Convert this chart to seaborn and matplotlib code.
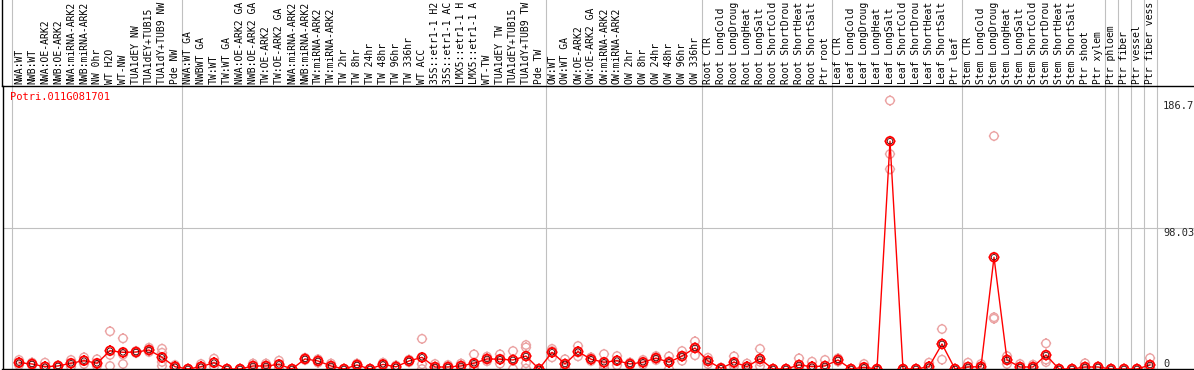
import numpy as np
import pandas as pd
import seaborn as sns
import matplotlib.pyplot as plt
from matplotlib.path import Path

# sample columns, in the order shown across the top (as far as the header shows them)
samples = [
    'NWA:WT', 'NWB:WT', 'NWA:OE-ARK2', 'NWB:OE-ARK2', 'NWA:miRNA-ARK2', 'NWB:miRNA-ARK2',
    'NW 0hr', 'WT H2O', 'WT-NW', 'TUA1dEY NW', 'TUA1dEY+TUB15', 'TUA1dY+TUB9 NW', 'Pde NW',
    'NWA:WT GA', 'NWBWT GA', 'TW:WT', 'TW:WT GA', 'NWA:OE-ARK2 GA', 'NWB:OE-ARK2 GA',
    'TW:OE-ARK2', 'TW:OE-ARK2 GA', 'NWA:miRNA-ARK2', 'NWB:miRNA-ARK2', 'TW:miRNA-ARK2',
    'TW:miRNA-ARK2', 'TW 2hr', 'TW 8hr', 'TW 24hr', 'TW 48hr', 'TW 96hr', 'TW 336hr', 'WT ACC',
    '35S::etr1-1 H2', '35S::etr1-1 AC', 'LMX5::etr1-1 H', 'LMX5::etr1-1 A', 'WT-TW',
    'TUA1dEY TW', 'TUA1dEY+TUB15', 'TUA1dY+TUB9 TW', 'Pde TW',
    'OW:WT', 'OW:WT GA', 'OW:OE-ARK2', 'OW:OE-ARK2 GA', 'OW:miRNA-ARK2', 'OW:miRNA-ARK2',
    'OW 2hr', 'OW 8hr', 'OW 24hr', 'OW 48hr', 'OW 96hr', 'OW 336hr',
    'Root CTR', 'Root LongCold', 'Root LongDroug', 'Root LongHeat', 'Root LongSalt',
    'Root ShortCold', 'Root ShortDrou', 'Root ShortHeat', 'Root ShortSalt', 'Ptr root',
    'Leaf CTR', 'Leaf LongCold', 'Leaf LongDroug', 'Leaf LongHeat', 'Leaf LongSalt',
    'Leaf ShortCold', 'Leaf ShortDrou', 'Leaf ShortHeat', 'Leaf ShortSalt', 'Ptr leaf',
    'Stem CTR', 'Stem LongCold', 'Stem LongDroug', 'Stem LongHeat', 'Stem LongSalt',
    'Stem ShortCold', 'Stem ShortDrou', 'Stem ShortHeat', 'Stem ShortSalt', 'Ptr shoot',
    'Ptr xylem', 'Ptr phloem', 'Ptr fiber', 'Ptr vessel', 'Ptr fiber vess',
]
group_sizes = [13, 28, 12, 10, 10, 11, 1, 1, 1, 1]

# mean expression per sample
mean_expr = [
    4.4, 3.5, 1.6, 2.1, 4.0, 5.8, 4.0, 12.7, 11.6, 11.8, 13.2, 8.1, 1.6,
    0.0, 1.6, 4.4, 0.0, 0.0, 2.1, 2.1, 3.2, 0.0, 7.0, 5.6, 2.1, 0.0, 2.8, 0.0, 3.2,
    1.5, 5.6, 8.1, 1.4, 1.4, 2.1, 4.0, 7.0, 6.8, 6.3, 9.0, 0.0,
    11.6, 3.5, 12.1, 6.8, 4.7, 5.8, 3.5, 4.7, 7.6, 4.7, 9.0, 14.6,
    5.6, 0.5, 4.7, 1.6, 7.0, 0.0, 0.0, 2.8, 1.6, 2.1,
    6.3, 0.0, 1.2, 0.0, 158.4, 0.0, 0.0, 1.6, 17.4, 0.0,
    1.4, 1.6, 77.7, 6.3, 1.4, 1.4, 9.7, 0.0, 0.0, 1.4, 1.4,
    0.0, 0.0, 0.0, 2.8,
]

# individual replicates per sample
rep_expr = [
    [6.3, 4.2, 2.7], [4.5, 3.5, 2.5], [4.4, 0.4, 0.0], [2.6, 2.1, 1.6], [6.3, 4.0, 1.7],
    [8.1, 5.8, 3.5], [6.8, 3.2, 2.0], [26.2, 9.8, 2.1], [21.3, 10.0, 3.5], [12.5, 11.8, 11.1],
    [14.8, 13.0, 11.8], [14.1, 11.3, 4.9, 2.1], [2.8, 1.6, 0.4],
    [0.0, 0.0, 0.0], [3.5, 1.0, 0.3], [7.2, 4.4, 1.6], [0.0, 0.0, 0.0], [0.0, 0.0, 0.0],
    [3.8, 2.1, 0.4], [3.8, 2.1, 0.4], [5.8, 3.0, 0.8], [0.0, 0.0, 0.0], [7.8, 7.0, 6.2],
    [6.8, 5.6, 4.4], [3.8, 2.1, 0.4], [0.0, 0.0, 0.0], [3.8, 2.8, 1.8], [0.0, 0.0, 0.0],
    [4.4, 3.2, 2.0], [2.5, 1.5, 0.5], [6.5, 5.6, 4.7], [21.0, 3.3, 0.0], [3.5, 0.7, 0.0],
    [2.8, 1.0, 0.4], [3.8, 2.1, 0.4], [10.2, 1.8, 0.0], [8.6, 7.0, 5.4], [10.2, 6.5, 3.7],
    [12.5, 6.4, 0.0], [16.7, 15.0, 4.0, 0.3], [0.0, 0.0, 0.0],
    [14.0, 12.5, 8.1], [6.8, 3.0, 0.7], [16.0, 11.5, 8.8], [8.1, 6.8, 5.5], [10.4, 3.0, 0.7],
    [9.0, 5.8, 2.6], [4.5, 3.5, 2.5], [6.3, 4.7, 3.1], [9.0, 7.6, 6.2], [8.8, 5.3, 0.0],
    [12.5, 8.6, 5.7], [19.2, 15.1, 9.5],
    [7.8, 5.6, 3.5], [1.0, 0.5, 0.0], [8.8, 3.5, 1.8], [3.8, 1.0, 0.0], [14.0, 5.0, 2.0],
    [0.0, 0.0, 0.0], [0.0, 0.0, 0.0], [7.4, 1.0, 0.0], [5.1, 0.0, 0.0], [6.3, 0.0, 0.0],
    [7.4, 6.3, 5.2], [0.0, 0.0, 0.0], [3.5, 0.0, 0.0], [0.0, 0.0, 0.0], [186.7, 149.5, 138.9],
    [0.0, 0.0, 0.0], [0.0, 0.0, 0.0], [4.4, 0.4, 0.0], [27.8, 17.4, 6.5], [0.0, 0.0, 0.0],
    [4.4, 0.0, 0.0], [3.5, 1.0, 0.3], [162.0, 36.0, 35.0], [9.0, 6.5, 3.5], [3.5, 0.5, 0.2],
    [3.0, 1.0, 0.2], [17.8, 6.5, 4.8], [0.0, 0.0, 0.0], [0.0, 0.0, 0.0], [4.0, 0.2, 0.0],
    [1.8, 1.4, 1.0],
    [0.0, 0.0, 0.0], [0.0, 0.0, 0.0], [0.0, 0.0, 0.0], [7.6, 0.8, 0.0],
]

y_marks = [186.7, 98.03, 0]
gene_id = 'Potri.011G081701'

sns.set_theme(style='white')
plt.rcParams['font.family'] = ['DejaVu Sans Mono']

pos = np.arange(len(samples))
means_df = pd.DataFrame({'pos': pos, 'expr': mean_expr})
reps_df = pd.DataFrame([(i, v) for i, vals in enumerate(rep_expr) for v in vals], columns=['pos', 'expr'])

# circle with small ticks, like the original markers
ticks = [Path([(0, 1), (0, 1.25)]), Path([(0, -1), (0, -1.25)]),
         Path([(1, 0), (1.25, 0)]), Path([(-1, 0), (-1.25, 0)])]
ring = Path.make_compound_path(Path.unit_circle(), *ticks)

fig = plt.figure(figsize=(11.94, 3.70), dpi=100)
ax = fig.add_axes([2.5 / 1194, 1 / 370, 1 - 2.5 / 1194, 283 / 370])

# group separators, running up through the header
edges = np.concatenate([[0], np.cumsum(group_sizes)]) - 0.5
for e in edges:
    ax.axvline(e, ymin=0, ymax=1.31, color='#c0c0c0', lw=0.8, clip_on=False, zorder=0)
ax.axhline(y_marks[1], color='#c0c0c0', lw=0.8, zorder=0)

sns.scatterplot(data=reps_df, x='pos', y='expr', marker=ring, s=56, facecolors='none',
                edgecolor='#eba3a3', linewidth=1.0, ax=ax, zorder=2)
sns.lineplot(data=means_df, x='pos', y='expr', color='red', linewidth=1.0, ax=ax, zorder=3)
sns.scatterplot(data=means_df, x='pos', y='expr', marker='o', s=16, facecolors='none',
                edgecolor='#400000', linewidth=0.6, ax=ax, zorder=4)
sns.scatterplot(data=means_df, x='pos', y='expr', marker=ring, s=60, facecolors='none',
                edgecolor='red', linewidth=1.3, ax=ax, zorder=5)

ax.set_xlim((2.5 - 19) / 13, (1194 - 19) / 13)
ax.set_ylim(0, 283 / 1.438)
ax.set_xlabel('')
ax.set_ylabel('')
ax.set_yticks([])
ax.set_xticks(pos)
ax.set_xticklabels(samples, rotation=90, fontsize=7.0)
ax.xaxis.tick_top()
ax.tick_params(axis='x', length=0, pad=1.2, colors='black')

for s in ['left', 'top', 'bottom']:
    ax.spines[s].set_color('black')
    ax.spines[s].set_linewidth(1.0)
ax.spines['right'].set_visible(False)
ax.axvline(ax.get_xlim()[0], ymin=1, ymax=1.31, color='black', lw=1.0, clip_on=False)

ax.text(0.0063, 0.961, gene_id, transform=ax.transAxes, color='red', fontsize=7.5, va='center')
x_lab = (1163 - 19) / 13
ax.text(x_lab, y_marks[0], '186.7', fontsize=7.5, va='top', ha='left')
ax.text(x_lab, y_marks[1], '98.03', fontsize=7.5, va='top', ha='left')
ax.text(x_lab, y_marks[2], '0', fontsize=7.5, va='bottom', ha='left')

fig.savefig('out.png', dpi=100)
